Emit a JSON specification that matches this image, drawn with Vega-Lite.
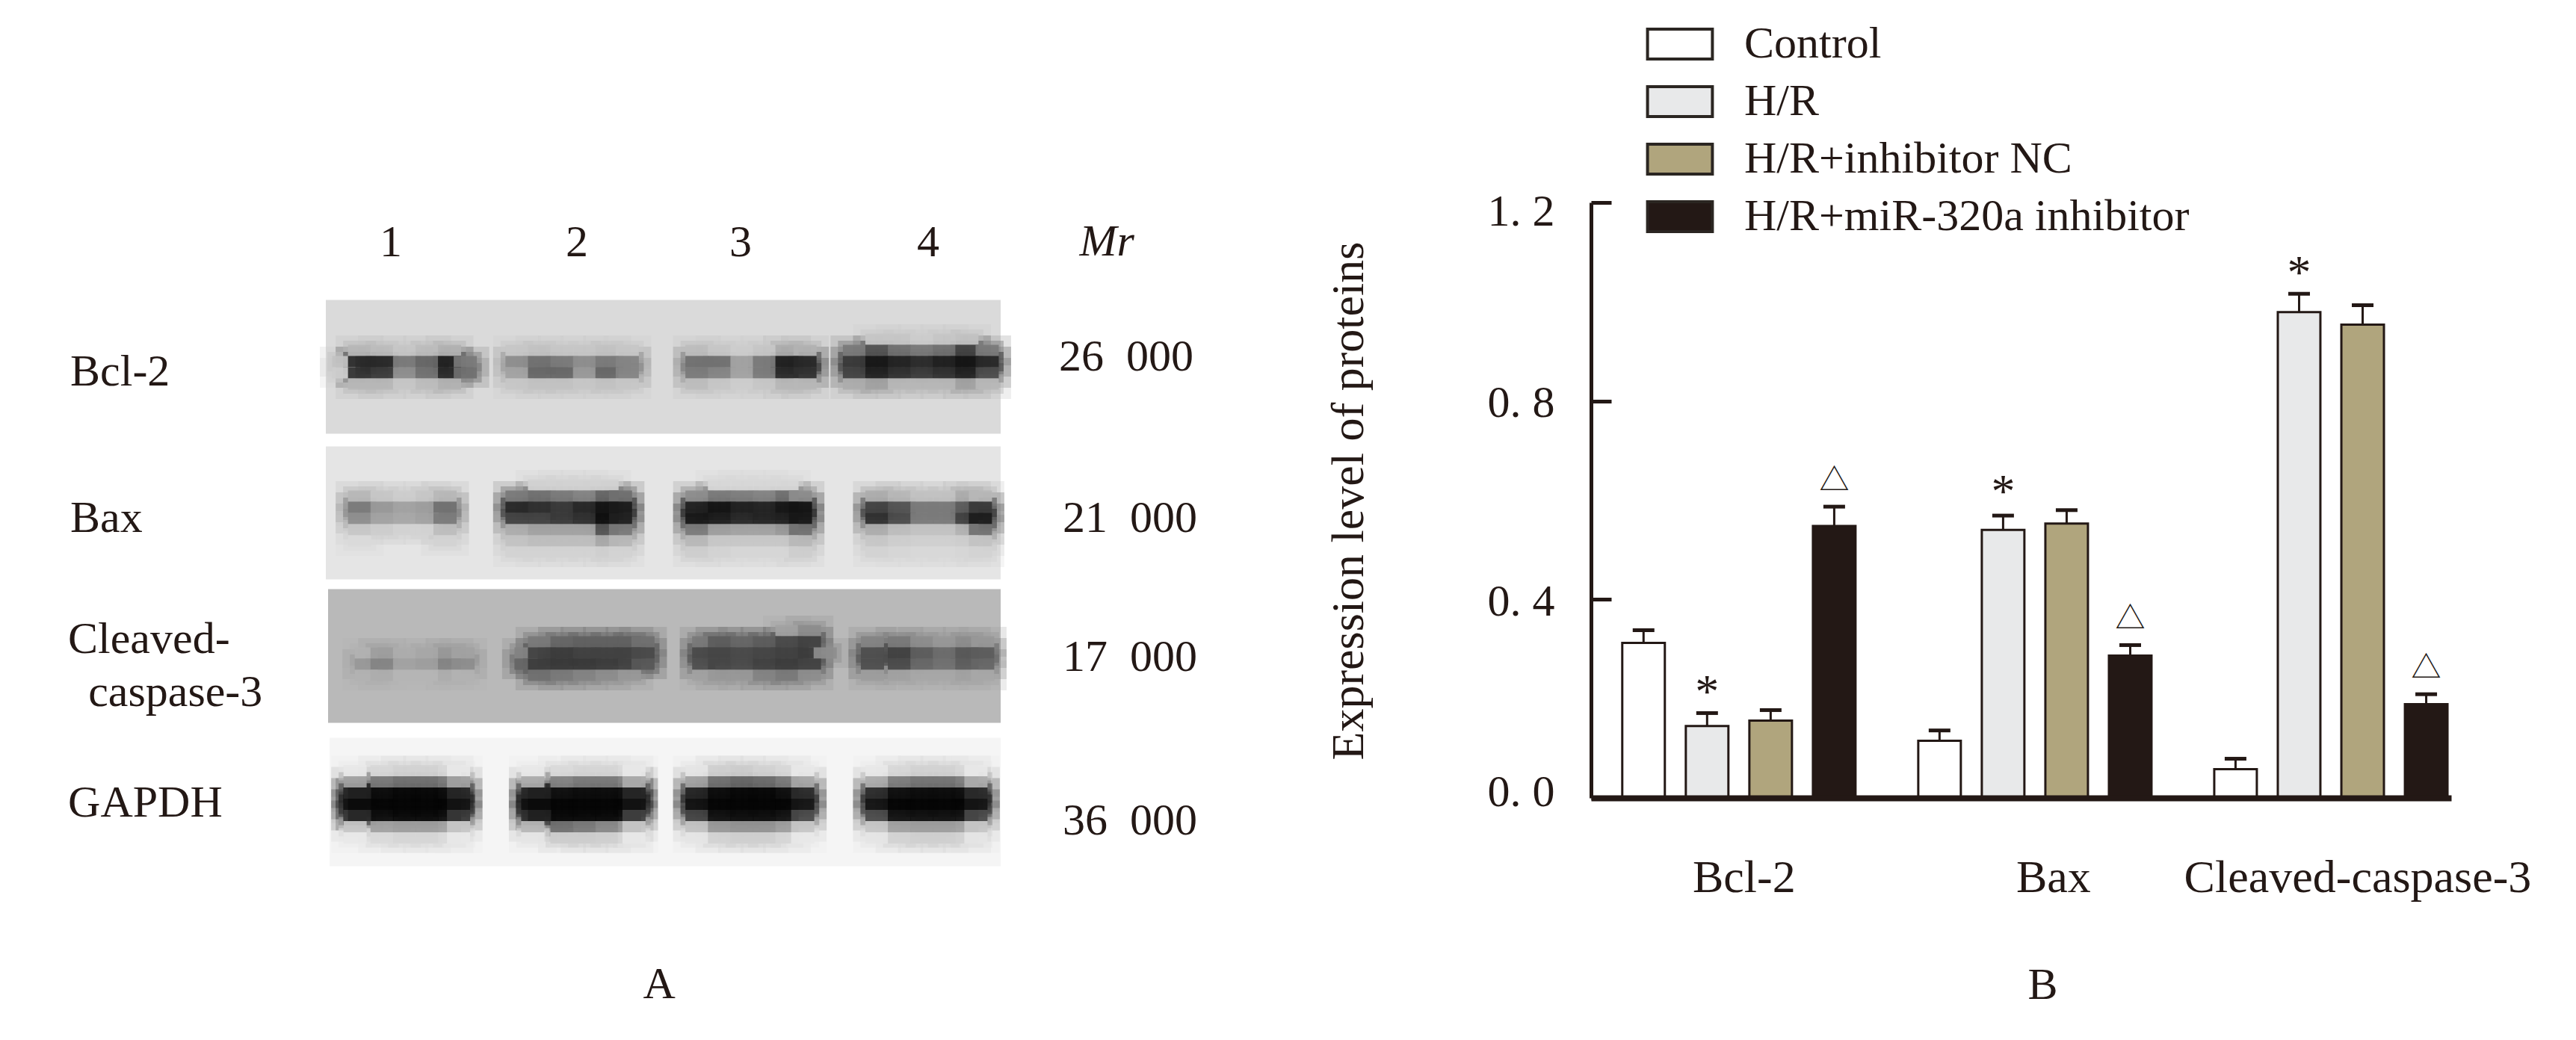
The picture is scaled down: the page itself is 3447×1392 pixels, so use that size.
{"$schema":"https://vega.github.io/schema/vega-lite/v6.json","background":"white","padding":{"left":91,"top":29,"right":61,"bottom":55},"autosize":{"type":"pad"},"bounds":"flush","spacing":790,
"config":{"view":{"stroke":null},"font":"Liberation Serif"},
"datasets":{
"blots":[{"blot":"Bcl-2","x0":-0.5,"x1":29.5,"y0":8.5,"y1":20.43,"g":222},{"blot":"Bax","x0":-0.5,"x1":29.5,"y0":21.57,"y1":33.43,"g":232},{"blot":"Cleaved-caspase-3","x0":-0.4,"x1":29.5,"y0":34.3,"y1":46.23,"g":192},{"blot":"GAPDH","x0":-0.33,"x1":29.5,"y0":47.57,"y1":59.03,"g":246}],
"cells":[
{"x":24,"y":12,"g":205},{"x":25,"y":12,"g":205},{"x":26,"y":12,"g":210},{"x":27,"y":12,"g":205},{"x":28,"y":12,"g":200},
{"x":1,"y":13,"g":190},{"x":2,"y":13,"g":195},{"x":3,"y":13,"g":205},{"x":4,"y":13,"g":195},{"x":5,"y":13,"g":185},{"x":8,"y":13,"g":205},{"x":9,"y":13,"g":200},{"x":10,"y":13,"g":205},{"x":11,"y":13,"g":205},{"x":12,"y":13,"g":200},{"x":12.9,"y":13,"g":205},{"x":16,"y":13,"g":195},{"x":17,"y":13,"g":205},{"x":18,"y":13,"g":210},{"x":19,"y":13,"g":205},{"x":20,"y":13,"g":180},{"x":20.8,"y":13,"g":185},{"x":23,"y":13,"g":130},{"x":24,"y":13,"g":90},{"x":25,"y":13,"g":120},{"x":26,"y":13,"g":130},{"x":27,"y":13,"g":120},{"x":28,"y":13,"g":70},{"x":28.9,"y":13,"g":130},
{"x":0.3,"y":14,"g":200},{"x":1,"y":14,"g":40},{"x":2,"y":14,"g":40},{"x":3,"y":14,"g":130},{"x":4,"y":14,"g":110},{"x":5,"y":14,"g":30},{"x":5.7,"y":14,"g":130},{"x":8,"y":14,"g":150},{"x":9,"y":14,"g":120},{"x":10,"y":14,"g":130},{"x":11,"y":14,"g":150},{"x":12,"y":14,"g":130},{"x":12.9,"y":14,"g":140},{"x":16,"y":14,"g":120},{"x":17,"y":14,"g":120},{"x":18,"y":14,"g":170},{"x":19,"y":14,"g":130},{"x":20,"y":14,"g":30},{"x":20.8,"y":14,"g":40},{"x":23,"y":14,"g":60},{"x":24,"y":14,"g":20},{"x":25,"y":14,"g":35},{"x":26,"y":14,"g":45},{"x":27,"y":14,"g":30},{"x":28,"y":14,"g":15},{"x":28.9,"y":14,"g":40},
{"x":0.3,"y":15,"g":210},{"x":1,"y":15,"g":50},{"x":2,"y":15,"g":60},{"x":3,"y":15,"g":150},{"x":4,"y":15,"g":120},{"x":5,"y":15,"g":40},{"x":5.7,"y":15,"g":120},{"x":8,"y":15,"g":170},{"x":9,"y":15,"g":110},{"x":10,"y":15,"g":110},{"x":11,"y":15,"g":160},{"x":12,"y":15,"g":110},{"x":12.9,"y":15,"g":140},{"x":16,"y":15,"g":130},{"x":17,"y":15,"g":140},{"x":18,"y":15,"g":170},{"x":19,"y":15,"g":130},{"x":20,"y":15,"g":40},{"x":20.8,"y":15,"g":50},{"x":23,"y":15,"g":70},{"x":24,"y":15,"g":30},{"x":25,"y":15,"g":50},{"x":26,"y":15,"g":60},{"x":27,"y":15,"g":50},{"x":28,"y":15,"g":30},{"x":28.9,"y":15,"g":80},
{"x":1,"y":16,"g":190},{"x":2,"y":16,"g":190},{"x":3,"y":16,"g":205},{"x":4,"y":16,"g":195},{"x":5,"y":16,"g":185},{"x":8,"y":16,"g":205},{"x":9,"y":16,"g":200},{"x":10,"y":16,"g":200},{"x":11,"y":16,"g":205},{"x":12,"y":16,"g":200},{"x":12.9,"y":16,"g":205},{"x":16,"y":16,"g":195},{"x":17,"y":16,"g":205},{"x":18,"y":16,"g":210},{"x":19,"y":16,"g":205},{"x":20,"y":16,"g":190},{"x":20.8,"y":16,"g":190},{"x":23,"y":16,"g":180},{"x":24,"y":16,"g":170},{"x":25,"y":16,"g":190},{"x":26,"y":16,"g":190},{"x":27,"y":16,"g":190},{"x":28,"y":16,"g":170},{"x":28.9,"y":16,"g":190},
{"x":9,"y":25,"g":215},{"x":10,"y":25,"g":215},{"x":11,"y":25,"g":215},{"x":12,"y":25,"g":215},{"x":17,"y":25,"g":220},{"x":18,"y":25,"g":220},{"x":19,"y":25,"g":220},{"x":20,"y":25,"g":220},
{"x":1,"y":26,"g":190},{"x":2,"y":26,"g":205},{"x":3,"y":26,"g":210},{"x":4,"y":26,"g":205},{"x":4.8,"y":26,"g":190},{"x":8,"y":26,"g":130},{"x":9,"y":26,"g":120},{"x":10,"y":26,"g":130},{"x":11,"y":26,"g":140},{"x":12,"y":26,"g":110},{"x":12.6,"y":26,"g":120},{"x":16,"y":26,"g":150},{"x":17,"y":26,"g":130},{"x":18,"y":26,"g":135},{"x":19,"y":26,"g":140},{"x":20,"y":26,"g":120},{"x":20.6,"y":26,"g":150},{"x":24,"y":26,"g":180},{"x":25,"y":26,"g":190},{"x":26,"y":26,"g":200},{"x":27,"y":26,"g":200},{"x":28,"y":26,"g":180},{"x":28.6,"y":26,"g":190},
{"x":1,"y":27,"g":130},{"x":2,"y":27,"g":160},{"x":3,"y":27,"g":170},{"x":4,"y":27,"g":165},{"x":4.8,"y":27,"g":120},{"x":8,"y":27,"g":40},{"x":9,"y":27,"g":50},{"x":10,"y":27,"g":60},{"x":11,"y":27,"g":40},{"x":12,"y":27,"g":15},{"x":12.6,"y":27,"g":25},{"x":16,"y":27,"g":30},{"x":17,"y":27,"g":15},{"x":18,"y":27,"g":30},{"x":19,"y":27,"g":35},{"x":20,"y":27,"g":20},{"x":20.6,"y":27,"g":15},{"x":24,"y":27,"g":70},{"x":25,"y":27,"g":90},{"x":26,"y":27,"g":130},{"x":27,"y":27,"g":130},{"x":28,"y":27,"g":100},{"x":28.6,"y":27,"g":60},
{"x":1,"y":28,"g":150},{"x":2,"y":28,"g":170},{"x":3,"y":28,"g":175},{"x":4,"y":28,"g":170},{"x":4.8,"y":28,"g":130},{"x":8,"y":28,"g":70},{"x":9,"y":28,"g":70},{"x":10,"y":28,"g":60},{"x":11,"y":28,"g":50},{"x":12,"y":28,"g":10},{"x":12.6,"y":28,"g":30},{"x":16,"y":28,"g":20},{"x":17,"y":28,"g":25},{"x":18,"y":28,"g":40},{"x":19,"y":28,"g":35},{"x":20,"y":28,"g":30},{"x":20.6,"y":28,"g":20},{"x":24,"y":28,"g":50},{"x":25,"y":28,"g":80},{"x":26,"y":28,"g":130},{"x":27,"y":28,"g":130},{"x":28,"y":28,"g":70},{"x":28.6,"y":28,"g":25},
{"x":1,"y":29,"g":205},{"x":2,"y":29,"g":210},{"x":3,"y":29,"g":215},{"x":4,"y":29,"g":215},{"x":4.8,"y":29,"g":195},{"x":8,"y":29,"g":180},{"x":9,"y":29,"g":170},{"x":10,"y":29,"g":170},{"x":11,"y":29,"g":170},{"x":12,"y":29,"g":90},{"x":12.6,"y":29,"g":130},{"x":16,"y":29,"g":130},{"x":17,"y":29,"g":165},{"x":18,"y":29,"g":170},{"x":19,"y":29,"g":170},{"x":20,"y":29,"g":160},{"x":20.6,"y":29,"g":120},{"x":24,"y":29,"g":180},{"x":25,"y":29,"g":195},{"x":26,"y":29,"g":200},{"x":27,"y":29,"g":200},{"x":28,"y":29,"g":185},{"x":28.6,"y":29,"g":120},
{"x":1,"y":30,"g":222},{"x":4.8,"y":30,"g":215},{"x":8,"y":30,"g":200},{"x":9,"y":30,"g":195},{"x":10,"y":30,"g":195},{"x":11,"y":30,"g":195},{"x":12,"y":30,"g":175},{"x":12.6,"y":30,"g":190},{"x":16,"y":30,"g":190},{"x":17,"y":30,"g":205},{"x":18,"y":30,"g":205},{"x":19,"y":30,"g":205},{"x":20,"y":30,"g":205},{"x":20.6,"y":30,"g":190},{"x":24,"y":30,"g":205},{"x":25,"y":30,"g":210},{"x":26,"y":30,"g":212},{"x":27,"y":30,"g":212},{"x":28,"y":30,"g":210},{"x":28.6,"y":30,"g":200},
{"x":8,"y":31,"g":215},{"x":9,"y":31,"g":215},{"x":10,"y":31,"g":215},{"x":11,"y":31,"g":215},{"x":12,"y":31,"g":212},{"x":12.6,"y":31,"g":215},{"x":16,"y":31,"g":210},{"x":17,"y":31,"g":215},{"x":18,"y":31,"g":218},{"x":19,"y":31,"g":218},{"x":20,"y":31,"g":218},{"x":20.6,"y":31,"g":210},{"x":24,"y":31,"g":215},{"x":25,"y":31,"g":218},{"x":26,"y":31,"g":220},{"x":27,"y":31,"g":220},{"x":28,"y":31,"g":218},{"x":28.6,"y":31,"g":215},
{"x":20,"y":38,"g":170},{"x":21,"y":38,"g":150},
{"x":9,"y":39,"g":130},{"x":10,"y":39,"g":110},{"x":11,"y":39,"g":105},{"x":12,"y":39,"g":105},{"x":13,"y":39,"g":105},{"x":13.6,"y":39,"g":120},{"x":16.3,"y":39,"g":130},{"x":17,"y":39,"g":100},{"x":18,"y":39,"g":110},{"x":19,"y":39,"g":100},{"x":20,"y":39,"g":80},{"x":21,"y":39,"g":70},{"x":23.8,"y":39,"g":140},{"x":25,"y":39,"g":130},{"x":26,"y":39,"g":150},{"x":27,"y":39,"g":160},{"x":28,"y":39,"g":150},{"x":28.7,"y":39,"g":160},
{"x":1.3,"y":40,"g":185},{"x":2,"y":40,"g":165},{"x":3,"y":40,"g":180},{"x":4,"y":40,"g":175},{"x":5,"y":40,"g":160},{"x":5.6,"y":40,"g":170},{"x":8.4,"y":40,"g":140},{"x":9,"y":40,"g":70},{"x":10,"y":40,"g":65},{"x":11,"y":40,"g":70},{"x":12,"y":40,"g":70},{"x":13,"y":40,"g":70},{"x":13.6,"y":40,"g":80},{"x":16.3,"y":40,"g":80},{"x":17,"y":40,"g":75},{"x":18,"y":40,"g":80},{"x":19,"y":40,"g":75},{"x":20,"y":40,"g":70},{"x":21,"y":40,"g":65},{"x":21.7,"y":40,"g":150},{"x":23.8,"y":40,"g":85},{"x":25,"y":40,"g":70},{"x":26,"y":40,"g":100},{"x":27,"y":40,"g":115},{"x":28,"y":40,"g":95},{"x":28.7,"y":40,"g":100},
{"x":1.3,"y":41,"g":160},{"x":2,"y":41,"g":140},{"x":3,"y":41,"g":170},{"x":4,"y":41,"g":165},{"x":5,"y":41,"g":140},{"x":5.6,"y":41,"g":150},{"x":8.4,"y":41,"g":110},{"x":9,"y":41,"g":65},{"x":10,"y":41,"g":60},{"x":11,"y":41,"g":60},{"x":12,"y":41,"g":65},{"x":13,"y":41,"g":70},{"x":13.6,"y":41,"g":95},{"x":16.3,"y":41,"g":85},{"x":17,"y":41,"g":75},{"x":18,"y":41,"g":80},{"x":19,"y":41,"g":70},{"x":20,"y":41,"g":65},{"x":21,"y":41,"g":70},{"x":23.8,"y":41,"g":85},{"x":25,"y":41,"g":80},{"x":26,"y":41,"g":110},{"x":27,"y":41,"g":120},{"x":28,"y":41,"g":100},{"x":28.7,"y":41,"g":110},
{"x":1.3,"y":42,"g":185},{"x":2,"y":42,"g":180},{"x":3,"y":42,"g":188},{"x":4,"y":42,"g":188},{"x":5,"y":42,"g":180},{"x":5.6,"y":42,"g":185},{"x":9,"y":42,"g":120},{"x":10,"y":42,"g":130},{"x":11,"y":42,"g":140},{"x":12,"y":42,"g":150},{"x":13,"y":42,"g":160},{"x":16.3,"y":42,"g":170},{"x":17,"y":42,"g":160},{"x":18,"y":42,"g":160},{"x":19,"y":42,"g":140},{"x":20,"y":42,"g":130},{"x":21,"y":42,"g":150},{"x":23.8,"y":42,"g":165},{"x":25,"y":42,"g":170},{"x":26,"y":42,"g":175},{"x":27,"y":42,"g":175},{"x":28,"y":42,"g":170},{"x":28.7,"y":42,"g":175},
{"x":0.8,"y":50.5,"g":235},{"x":2,"y":50.5,"g":220},{"x":3,"y":50.5,"g":215},{"x":4,"y":50.5,"g":215},{"x":5,"y":50.5,"g":220},{"x":5.4,"y":50.5,"g":235},{"x":8.7,"y":50.5,"g":235},{"x":10,"y":50.5,"g":222},{"x":11,"y":50.5,"g":218},{"x":12,"y":50.5,"g":218},{"x":13,"y":50.5,"g":222},{"x":13.2,"y":50.5,"g":235},{"x":16,"y":50.5,"g":232},{"x":17,"y":50.5,"g":212},{"x":18,"y":50.5,"g":210},{"x":19,"y":50.5,"g":215},{"x":20,"y":50.5,"g":220},{"x":20.7,"y":50.5,"g":235},{"x":24,"y":50.5,"g":235},{"x":25,"y":50.5,"g":220},{"x":26,"y":50.5,"g":215},{"x":27,"y":50.5,"g":215},{"x":28,"y":50.5,"g":220},{"x":28.4,"y":50.5,"g":235},
{"x":0.8,"y":51.5,"g":170},{"x":2,"y":51.5,"g":130},{"x":3,"y":51.5,"g":120},{"x":4,"y":51.5,"g":120},{"x":5,"y":51.5,"g":130},{"x":5.4,"y":51.5,"g":170},{"x":8.7,"y":51.5,"g":180},{"x":10,"y":51.5,"g":140},{"x":11,"y":51.5,"g":130},{"x":12,"y":51.5,"g":130},{"x":13,"y":51.5,"g":140},{"x":13.2,"y":51.5,"g":180},{"x":16,"y":51.5,"g":170},{"x":17,"y":51.5,"g":120},{"x":18,"y":51.5,"g":110},{"x":19,"y":51.5,"g":115},{"x":20,"y":51.5,"g":130},{"x":20.7,"y":51.5,"g":175},{"x":24,"y":51.5,"g":180},{"x":25,"y":51.5,"g":135},{"x":26,"y":51.5,"g":125},{"x":27,"y":51.5,"g":125},{"x":28,"y":51.5,"g":135},{"x":28.4,"y":51.5,"g":180},
{"x":0.8,"y":52.5,"g":40},{"x":2,"y":52.5,"g":8},{"x":3,"y":52.5,"g":5},{"x":4,"y":52.5,"g":5},{"x":5,"y":52.5,"g":8},{"x":5.4,"y":52.5,"g":40},{"x":8.7,"y":52.5,"g":40},{"x":10,"y":52.5,"g":10},{"x":11,"y":52.5,"g":8},{"x":12,"y":52.5,"g":8},{"x":13,"y":52.5,"g":10},{"x":13.2,"y":52.5,"g":40},{"x":16,"y":52.5,"g":35},{"x":17,"y":52.5,"g":8},{"x":18,"y":52.5,"g":5},{"x":19,"y":52.5,"g":5},{"x":20,"y":52.5,"g":10},{"x":20.7,"y":52.5,"g":45},{"x":24,"y":52.5,"g":45},{"x":25,"y":52.5,"g":10},{"x":26,"y":52.5,"g":8},{"x":27,"y":52.5,"g":8},{"x":28,"y":52.5,"g":10},{"x":28.4,"y":52.5,"g":45},
{"x":0.8,"y":53.5,"g":15},{"x":2,"y":53.5,"g":3},{"x":3,"y":53.5,"g":3},{"x":4,"y":53.5,"g":3},{"x":5,"y":53.5,"g":3},{"x":5.4,"y":53.5,"g":15},{"x":8.7,"y":53.5,"g":12},{"x":10,"y":53.5,"g":3},{"x":11,"y":53.5,"g":3},{"x":12,"y":53.5,"g":3},{"x":13,"y":53.5,"g":3},{"x":13.2,"y":53.5,"g":15},{"x":16,"y":53.5,"g":12},{"x":17,"y":53.5,"g":3},{"x":18,"y":53.5,"g":3},{"x":19,"y":53.5,"g":3},{"x":20,"y":53.5,"g":3},{"x":20.7,"y":53.5,"g":18},{"x":24,"y":53.5,"g":15},{"x":25,"y":53.5,"g":3},{"x":26,"y":53.5,"g":3},{"x":27,"y":53.5,"g":3},{"x":28,"y":53.5,"g":3},{"x":28.4,"y":53.5,"g":18},
{"x":0.8,"y":54.5,"g":60},{"x":2,"y":54.5,"g":8},{"x":3,"y":54.5,"g":5},{"x":4,"y":54.5,"g":5},{"x":5,"y":54.5,"g":8},{"x":5.4,"y":54.5,"g":60},{"x":8.7,"y":54.5,"g":50},{"x":10,"y":54.5,"g":5},{"x":11,"y":54.5,"g":5},{"x":12,"y":54.5,"g":5},{"x":13,"y":54.5,"g":8},{"x":13.2,"y":54.5,"g":70},{"x":16,"y":54.5,"g":70},{"x":17,"y":54.5,"g":10},{"x":18,"y":54.5,"g":8},{"x":19,"y":54.5,"g":8},{"x":20,"y":54.5,"g":12},{"x":20.7,"y":54.5,"g":80},{"x":24,"y":54.5,"g":80},{"x":25,"y":54.5,"g":12},{"x":26,"y":54.5,"g":10},{"x":27,"y":54.5,"g":10},{"x":28,"y":54.5,"g":12},{"x":28.4,"y":54.5,"g":80},
{"x":0.8,"y":55.5,"g":205},{"x":2,"y":55.5,"g":170},{"x":3,"y":55.5,"g":165},{"x":4,"y":55.5,"g":165},{"x":5,"y":55.5,"g":170},{"x":5.4,"y":55.5,"g":205},{"x":8.7,"y":55.5,"g":190},{"x":10,"y":55.5,"g":120},{"x":11,"y":55.5,"g":130},{"x":12,"y":55.5,"g":145},{"x":13,"y":55.5,"g":160},{"x":13.2,"y":55.5,"g":205},{"x":16,"y":55.5,"g":200},{"x":17,"y":55.5,"g":160},{"x":18,"y":55.5,"g":155},{"x":19,"y":55.5,"g":155},{"x":20,"y":55.5,"g":165},{"x":20.7,"y":55.5,"g":205},{"x":24,"y":55.5,"g":205},{"x":25,"y":55.5,"g":170},{"x":26,"y":55.5,"g":165},{"x":27,"y":55.5,"g":165},{"x":28,"y":55.5,"g":170},{"x":28.4,"y":55.5,"g":205},
{"x":0.8,"y":56.5,"g":235},{"x":2,"y":56.5,"g":222},{"x":3,"y":56.5,"g":218},{"x":4,"y":56.5,"g":218},{"x":5,"y":56.5,"g":222},{"x":5.4,"y":56.5,"g":235},{"x":8.7,"y":56.5,"g":232},{"x":10,"y":56.5,"g":210},{"x":11,"y":56.5,"g":210},{"x":12,"y":56.5,"g":212},{"x":13,"y":56.5,"g":218},{"x":13.2,"y":56.5,"g":235},{"x":16,"y":56.5,"g":232},{"x":17,"y":56.5,"g":215},{"x":18,"y":56.5,"g":212},{"x":19,"y":56.5,"g":212},{"x":20,"y":56.5,"g":218},{"x":20.7,"y":56.5,"g":235},{"x":24,"y":56.5,"g":232},{"x":25,"y":56.5,"g":215},{"x":26,"y":56.5,"g":212},{"x":27,"y":56.5,"g":212},{"x":28,"y":56.5,"g":215},{"x":28.4,"y":56.5,"g":232},
{"x":1,"y":52.5,"g":30},{"x":1,"y":53.5,"g":8},{"x":1,"y":54.5,"g":40},{"x":9,"y":52.5,"g":30},{"x":9,"y":53.5,"g":8},{"x":9,"y":54.5,"g":30}
],
"labelsCenter":[{"t":"1","x":2.39,"y":4.57},{"t":"2","x":10.66,"y":4.57},{"t":"3","x":17.94,"y":4.57},{"t":"4","x":26.28,"y":4.57},{"t":"A","x":14.32,"y":70.83}],
"labelsLeft":[{"t":"Bcl-2","x":-11.86,"y":16.14},{"t":"Bax","x":-11.86,"y":29.17},{"t":"Cleaved-","x":-11.96,"y":40.03},{"t":"caspase-3","x":-11.06,"y":44.7},{"t":"GAPDH","x":-11.96,"y":54.63},{"t":"26\u00a0\u00a0000","x":32.09,"y":14.83},{"t":"21\u00a0\u00a0000","x":32.26,"y":29.23},{"t":"17\u00a0\u00a0000","x":32.26,"y":41.57},{"t":"36\u00a0\u00a0000","x":32.26,"y":56.17}],
"bars":[
{"protein":"Bcl-2","group":"Control","value":0.3125,"upper":0.338},{"protein":"Bcl-2","group":"H/R","value":0.145,"upper":0.171},{"protein":"Bcl-2","group":"H/R+inhibitor NC","value":0.156,"upper":0.177},{"protein":"Bcl-2","group":"H/R+miR-320a inhibitor","value":0.548,"upper":0.587},
{"protein":"Bax","group":"Control","value":0.115,"upper":0.136},{"protein":"Bax","group":"H/R","value":0.54,"upper":0.569},{"protein":"Bax","group":"H/R+inhibitor NC","value":0.553,"upper":0.58},{"protein":"Bax","group":"H/R+miR-320a inhibitor","value":0.287,"upper":0.308},
{"protein":"Cleaved-caspase-3","group":"Control","value":0.058,"upper":0.079},{"protein":"Cleaved-caspase-3","group":"H/R","value":0.979,"upper":1.016},{"protein":"Cleaved-caspase-3","group":"H/R+inhibitor NC","value":0.954,"upper":0.993},{"protein":"Cleaved-caspase-3","group":"H/R+miR-320a inhibitor","value":0.189,"upper":0.209}],
"stars":[{"protein":"Bcl-2","group":"H/R","pos":0.1815,"t":"*"},{"protein":"Bax","group":"H/R","pos":0.586,"t":"*"},{"protein":"Cleaved-caspase-3","group":"H/R","pos":1.027,"t":"*"}],
"tris":[{"protein":"Bcl-2","group":"H/R+miR-320a inhibitor","pos":0.6385,"t":"△"},{"protein":"Bax","group":"H/R+miR-320a inhibitor","pos":0.36,"t":"△"},{"protein":"Cleaved-caspase-3","group":"H/R+miR-320a inhibitor","pos":0.26,"t":"△"}]
},
"hconcat":[
{"width":903,"height":900,
"encoding":{},
"layer":[
{"data":{"name":"blots"},"mark":{"type":"rect"},"encoding":{"x":{"field":"x0","type":"quantitative","axis":null,"scale":{"domain":[-0.5,29.5],"nice":false,"zero":false}},"x2":{"field":"x1"},"y":{"field":"y0","type":"quantitative","axis":null,"scale":{"domain":[-0.2,59.8],"nice":false,"zero":false,"reverse":true}},"y2":{"field":"y1"},"color":{"field":"g","type":"quantitative","legend":null,"scale":{"domain":[0,255],"range":["#000000","#ffffff"]}}}},
{"data":{"name":"cells"},"mark":{"type":"rect","width":64,"height":40,"opacity":0.22},"encoding":{"x":{"field":"x","type":"quantitative"},"y":{"field":"y","type":"quantitative"},"color":{"field":"g","type":"quantitative"}}},
{"data":{"name":"cells"},"mark":{"type":"rect","width":44,"height":26,"opacity":0.45},"encoding":{"x":{"field":"x","type":"quantitative"},"y":{"field":"y","type":"quantitative"},"color":{"field":"g","type":"quantitative"}}},
{"data":{"name":"cells"},"mark":{"type":"rect","width":31,"height":15,"opacity":0.92},"encoding":{"x":{"field":"x","type":"quantitative"},"y":{"field":"y","type":"quantitative"},"color":{"field":"g","type":"quantitative"}}},
{"data":{"name":"labelsCenter"},"mark":{"type":"text","align":"center","baseline":"alphabetic","font":"Liberation Serif","fontSize":60,"color":"#231815"},"encoding":{"x":{"field":"x","type":"quantitative"},"y":{"field":"y","type":"quantitative"},"text":{"field":"t"}}},
{"data":{"values":[{"t":"Mr","x":34.22,"y":4.5}]},"mark":{"type":"text","align":"center","baseline":"alphabetic","font":"Liberation Serif","fontStyle":"italic","fontSize":60,"color":"#231815"},"encoding":{"x":{"field":"x","type":"quantitative"},"y":{"field":"y","type":"quantitative"},"text":{"field":"t"}}},
{"data":{"name":"labelsLeft"},"mark":{"type":"text","align":"left","baseline":"alphabetic","font":"Liberation Serif","fontSize":60,"color":"#231815"},"encoding":{"x":{"field":"x","type":"quantitative"},"y":{"field":"y","type":"quantitative"},"text":{"field":"t"}}}
]},
{"width":1151,"height":797,
"encoding":{
"x":{"field":"protein","type":"nominal","sort":null,"scale":{"type":"band","domain":["Bcl-2","Bax","Cleaved-caspase-3"],"paddingInner":0.212,"paddingOuter":0.059,"align":0.894},
"axis":{"title":"B","titleFont":"Liberation Serif","titleFontSize":60,"titleFontWeight":"normal","titleColor":"#231815","titleX":604,"titleY":268,"titleBaseline":"alphabetic","labelFont":"Liberation Serif","labelFontSize":62,"labelColor":"#231815","labelAngle":0,"labelPadding":76,"labelBaseline":"top","labelLimit":0,"labelOverlap":false,"labelFlush":false,"ticks":false,"domainWidth":8,"domainColor":"#231815","grid":false,"zindex":1,"labelOffset":{"condition":[{"test":"datum.value==='Bcl-2'","value":7},{"test":"datum.value==='Bax'","value":25}],"value":36}}},
"xOffset":{"field":"group","type":"nominal","sort":null,"scale":{"domain":["Control","H/R","H/R+inhibitor NC","H/R+miR-320a inhibitor"],"paddingInner":0.33,"paddingOuter":0}}
},
"layer":[
{"data":{"name":"bars"},"mark":{"type":"rule","color":"#231815","strokeWidth":3},"encoding":{"y":{"field":"value","type":"quantitative"},"y2":{"field":"upper"}}},
{"data":{"name":"bars"},"mark":{"type":"tick","orient":"horizontal","color":"#231815","size":29,"thickness":5,"opacity":1},"encoding":{"y":{"field":"upper","type":"quantitative"}}},
{"data":{"name":"bars"},"mark":{"type":"bar","stroke":"#231815","strokeWidth":3},"encoding":{
"y":{"field":"value","type":"quantitative","stack":null,"scale":{"domain":[0,1.2],"nice":false,"zero":true},
"axis":{"title":"Expression level of proteins","titleFont":"Liberation Serif","titleFontSize":62,"titleFontWeight":"normal","titleColor":"#231815","titleX":-306,"titleY":399,"titleBaseline":"alphabetic","values":[0,0.4,0.8,1.2],"labelExpr":"replace(format(datum.value,'.1f'),'.','. ')","labelFont":"Liberation Serif","labelFontSize":60,"labelColor":"#231815","labelPadding":76,"labelFlush":false,"labelOverlap":false,"labelLimit":0,"tickSize":-27,"tickWidth":5,"tickColor":"#231815","domainWidth":5,"domainColor":"#231815","grid":false,"labelOffset":{"condition":[{"test":"datum.value===1.2","value":12},{"test":"datum.value===0","value":-8}],"value":3}}},
"fill":{"field":"group","type":"nominal","sort":null,"scale":{"domain":["Control","H/R","H/R+inhibitor NC","H/R+miR-320a inhibitor"],"range":["#ffffff","#e8e9ea","#b0a57d","#231815"]},
"legend":{"title":null,"orient":"none","legendX":1782,"legendY":-242,"padding":0,"symbolType":"M-2.17,-1H2.17V1H-2.17Z","symbolSize":1600,"symbolStrokeColor":"#2b2622","symbolStrokeWidth":4,"symbolOpacity":1,"labelFont":"Liberation Serif","labelFontSize":60,"labelColor":"#231815","labelOffset":56,"labelLimit":0,"rowPadding":17}}}},
{"data":{"name":"stars"},"mark":{"type":"text","align":"center","baseline":"alphabetic","font":"Liberation Serif","fontSize":64,"color":"#231815"},"encoding":{"y":{"field":"pos","type":"quantitative"},"text":{"field":"t"}}},
{"data":{"name":"tris"},"mark":{"type":"text","align":"center","baseline":"middle","font":"Noto Sans CJK SC","fontSize":40,"color":"#231815"},"encoding":{"y":{"field":"pos","type":"quantitative"},"text":{"field":"t"}}}
]}
]}
